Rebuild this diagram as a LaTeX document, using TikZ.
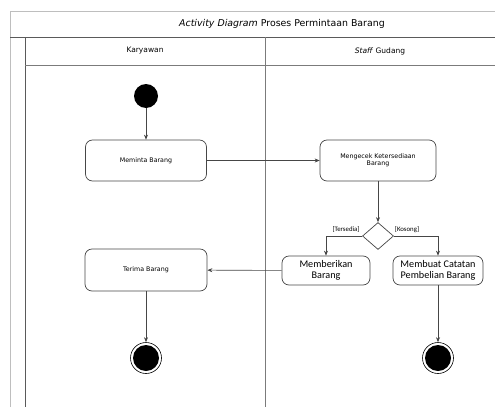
\documentclass[tikz,border=0pt]{standalone}
\usepackage{fontspec}
\setmainfont{DejaVu Sans}
\newfontfamily\boxfont{Carlito}
\usetikzlibrary{arrows.meta,shapes.geometric}
\definecolor{frameline}{RGB}{190,190,190}
\definecolor{laneline}{RGB}{90,90,90}
\definecolor{edgeline}{RGB}{70,70,70}
\begin{document}
\begin{tikzpicture}[x=1pt,y=-1pt,
  act/.style={draw=edgeline,rounded corners=7pt,line width=0.7pt,align=center,inner sep=0pt},
  smalltext/.style={font=\fontsize{6.3}{7.5}\selectfont},
  bigtext/.style={font=\boxfont\fontsize{10.2}{11}\selectfont},
  flow/.style={draw=edgeline,line width=0.6pt,-{Stealth[length=5pt,width=4pt]}},
  guard/.style={font=\boxfont\fontsize{6.8}{8}\selectfont,inner sep=1pt}]
\useasboundingbox (0,0) rectangle (495,407);
% frame and swimlanes
\draw[frameline,line width=0.8pt] (10,407) -- (10,11) -- (495,11);
\draw[laneline,line width=0.8pt] (10,37) -- (495,37);
\draw[laneline,line width=0.8pt] (25,37) -- (25,407);
\draw[laneline!80,line width=0.7pt] (25,65) -- (495,65);
\draw[laneline!80,line width=0.7pt] (265,37) -- (265,407);
\node[font=\fontsize{9.4}{11}\selectfont] (title) at (282,24) {\textit{Activity Diagram} Proses Permintaan Barang};
\node[font=\fontsize{7.5}{9}\selectfont] (laneA) at (145,51) {Karyawan};
\node[font=\fontsize{7.5}{9}\selectfont] (laneB) at (380,51) {\textit{Staff} Gudang};
% activities
\node[circle,fill=black,minimum size=24pt,inner sep=0pt] (start) at (146,96) {};
\node[act,smalltext,minimum width=121pt,minimum height=41pt] (req) at (146,160.5) {Meminta Barang};
\node[act,smalltext,minimum width=116pt,minimum height=41pt] (check) at (378,160.5) {Mengecek Ketersediaan\\Barang};
\node[diamond,draw=edgeline,line width=0.7pt,minimum width=31pt,minimum height=27pt,inner sep=0pt,aspect=1.15] (dec) at (378,236) {};
\node[act,bigtext,minimum width=88pt,minimum height=29pt] (give) at (326,270.5) {Memberikan\\Barang};
\node[act,bigtext,minimum width=90pt,minimum height=29pt] (note) at (438,270.5) {Membuat Catatan\\Pembelian Barang};
\node[act,smalltext,minimum width=122pt,minimum height=42pt] (recv) at (146,270) {Terima Barang};
\node[circle,draw=black,line width=0.6pt,minimum size=31pt,inner sep=0pt] (endA) at (146,358) {};
\node[circle,fill=black,minimum size=26pt,inner sep=0pt] at (endA) {};
\node[circle,draw=black,line width=0.6pt,minimum size=31pt,inner sep=0pt] (endB) at (438,358) {};
\node[circle,fill=black,minimum size=26pt,inner sep=0pt] at (endB) {};
% flows
\draw[flow] (start) -- (req);
\draw[flow] (req) -- (check);
\draw[flow] (check) -- (dec);
\draw[flow] (dec.west) -| (give.north);
\draw[flow] (dec.east) -| (note.north);
\draw[flow] (give) -- (recv);
\draw[flow] (recv) -- (endA);
\draw[flow] (note) -- (endB);
\node[guard,anchor=south] (yes) at (346,233.5) {[Tersedia]};
\node[guard,anchor=south] (no) at (407,233.5) {[Kosong]};
\end{tikzpicture}
\end{document}
